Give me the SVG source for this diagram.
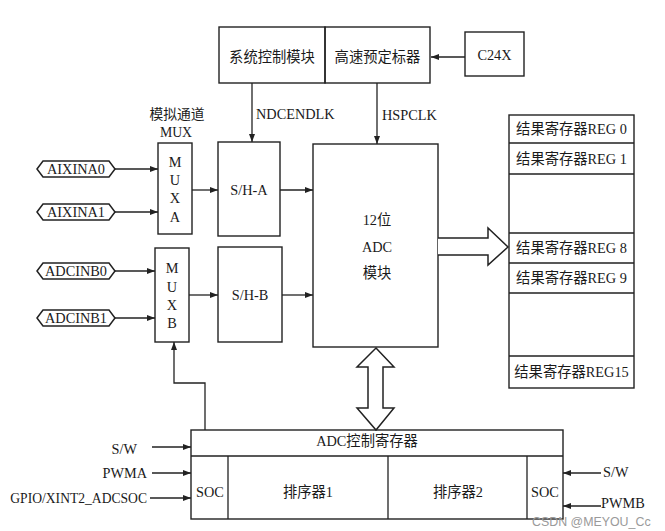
<svg xmlns="http://www.w3.org/2000/svg" width="665" height="531" viewBox="0 0 665 531">
<style>
.b{fill:none;stroke:#222;stroke-width:1.4}
.c{fill:none;stroke:#222;stroke-width:1.3}
.t{font-family:"Liberation Serif","Noto Sans CJK SC",serif;font-size:14.3px;fill:#1a1a1a;text-anchor:middle;dominant-baseline:central}
.s{text-anchor:start}
.e{text-anchor:end}
.h{fill:#fff;stroke:#222;stroke-width:1.5}
.w{font-family:"Liberation Sans",Arial,sans-serif;font-size:12.4px;fill:#9a9a9a}
</style>
<defs>
<marker id="a" markerUnits="userSpaceOnUse" markerWidth="9" markerHeight="7" refX="8" refY="3.5" orient="auto">
<path d="M0,0.5 L8,3.5 L0,6.5 z" fill="#222"/>
</marker>
</defs>
<rect width="665" height="531" fill="#fff"/>

<g id="sysctrl"><rect class="b" x="219" y="27" width="106" height="56"/><text class="t" x="272" y="57">系统控制模块</text></g>
<g id="prescaler"><rect class="b" x="325" y="27" width="105" height="56"/><text class="t" x="377.5" y="57">高速预定标器</text></g>
<g id="c24x"><rect class="b" x="465" y="32" width="59" height="44"/><text class="t" x="494.5" y="55">C24X</text></g>

<g id="muxlabel"><text class="t" x="177" y="114" style="font-size:13.8px">模拟通道</text><text class="t" x="176" y="132" style="font-size:13.8px">MUX</text></g>

<g id="aixina0"><path class="h" d="M37,169 L43,161 L109,161 L115,169 L109,177 L43,177 Z"/><text class="t" x="76" y="169">AIXINA0</text></g>
<g id="aixina1"><path class="h" d="M37,212 L43,204 L109,204 L115,212 L109,220 L43,220 Z"/><text class="t" x="76" y="212">AIXINA1</text></g>
<g id="adcinb0"><path class="h" d="M37,271 L43,263 L109,263 L115,271 L109,279 L43,279 Z"/><text class="t" x="76" y="271">ADCINB0</text></g>
<g id="adcinb1"><path class="h" d="M37,318 L43,310 L109,310 L115,318 L109,326 L43,326 Z"/><text class="t" x="76" y="318">ADCINB1</text></g>

<g id="muxa"><rect class="b" x="158" y="143" width="34" height="91"/>
<text class="t" x="175" y="162">M</text><text class="t" x="175" y="180">U</text><text class="t" x="175" y="198">X</text><text class="t" x="175" y="217">A</text></g>
<g id="muxb"><rect class="b" x="155" y="248" width="34" height="94"/>
<text class="t" x="172" y="268">M</text><text class="t" x="172" y="287">U</text><text class="t" x="172" y="305">X</text><text class="t" x="172" y="323">B</text></g>

<g id="sha"><rect class="b" x="218" y="142" width="62" height="94"/><text class="t" x="249" y="190">S/H-A</text></g>
<g id="shb"><rect class="b" x="218" y="247" width="64" height="95"/><text class="t" x="250" y="295">S/H-B</text></g>

<g id="adc"><rect class="b" x="313" y="144" width="125" height="203"/>
<text class="t" x="377" y="220">12位</text><text class="t" x="377" y="247">ADC</text><text class="t" x="377" y="273">模块</text></g>

<g id="results">
<rect class="b" x="509" y="115" width="125" height="273"/>
<path class="c" d="M509,143 H634 M509,174 H634 M509,233 H634 M509,263 H634 M509,293 H634 M509,356 H634"/>
<text class="t" x="571.5" y="129">结果寄存器REG 0</text>
<text class="t" x="571.5" y="158.5">结果寄存器REG 1</text>
<text class="t" x="571.5" y="248">结果寄存器REG 8</text>
<text class="t" x="571.5" y="278">结果寄存器REG 9</text>
<text class="t" x="571.5" y="372">结果寄存器REG15</text>
</g>

<g id="ctrlreg">
<rect class="b" x="191" y="430" width="372" height="89"/>
<path class="c" d="M191,456 H563 M228,456 V519 M388,456 V519 M527,456 V519"/>
<text class="t" x="367" y="441">ADC控制寄存器</text>
<text class="t" x="210" y="492">SOC</text>
<text class="t" x="308" y="492">排序器1</text>
<text class="t" x="458" y="492">排序器2</text>
<text class="t" x="545" y="492">SOC</text>
</g>

<g id="connectors">
<path class="c" marker-end="url(#a)" d="M465,57 H431"/>
<path class="c" marker-end="url(#a)" d="M252,83 V142"/>
<path class="c" marker-end="url(#a)" d="M377,83 V144"/>
<path class="c" marker-end="url(#a)" d="M115,169 H158"/>
<path class="c" marker-end="url(#a)" d="M115,212 H158"/>
<path class="c" marker-end="url(#a)" d="M192,190 H218"/>
<path class="c" marker-end="url(#a)" d="M280,190 H313"/>
<path class="c" marker-end="url(#a)" d="M115,271 H155"/>
<path class="c" marker-end="url(#a)" d="M115,318 H155"/>
<path class="c" marker-end="url(#a)" d="M189,295 H218"/>
<path class="c" marker-end="url(#a)" d="M282,295 H313"/>
<path class="c" marker-end="url(#a)" d="M205,430 V383 H174 V342"/>
<path class="c" marker-end="url(#a)" d="M152,447 H191"/>
<path class="c" marker-end="url(#a)" d="M152,473 H191"/>
<path class="c" marker-end="url(#a)" d="M150,498 H191"/>
<path class="c" marker-end="url(#a)" d="M601,473 H563"/>
<path class="c" marker-end="url(#a)" d="M601,506 H563"/>
<path class="h" d="M438,238 H488 V228 L508,247 L488,265 V255 H438"/>
<path class="h" d="M376,348 L394,367 H383 V408 H394 L376,430 L357,408 H368 V367 H357 Z"/>
</g>

<g id="labels">
<text class="t s" x="256" y="114">NDCENDLK</text>
<text class="t s" x="382" y="115">HSPCLK</text>
<text class="t e" x="137" y="449">S/W</text>
<text class="t e" x="147" y="473">PWMA</text>
<text class="t e" x="147" y="498" style="font-size:13.6px">GPIO/XINT2_ADCSOC</text>
<text class="t s" x="603" y="472">S/W</text>
<text class="t s" x="601" y="503">PWMB</text>
</g>
<text class="w" x="532" y="526">CSDN @MEYOU_Cc</text>
</svg>
